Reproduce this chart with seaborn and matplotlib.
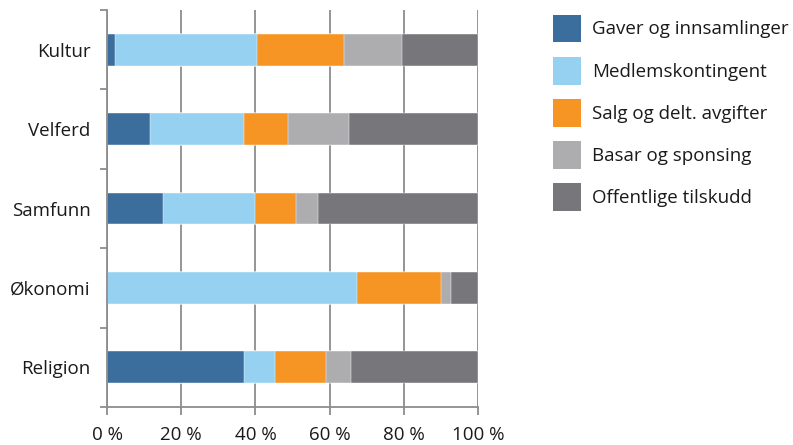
import matplotlib
matplotlib.use("Agg")
import matplotlib.pyplot as plt
from matplotlib.patches import Patch
from matplotlib.ticker import FixedLocator, FuncFormatter
import numpy as np
import pandas as pd
import seaborn as sns

# Andel av inntekter per område (prosent)
omrader = ["Kultur", "Velferd", "Samfunn", "Økonomi", "Religion"]
gaver = [2.2, 11.5, 15.0, 0.0, 36.9]
medlem = [38.3, 25.4, 24.9, 67.4, 8.3]
salg = [23.4, 12.0, 11.1, 22.6, 13.8]
basar = [15.6, 16.2, 5.9, 2.6, 6.7]
offentlig = [20.5, 34.9, 43.1, 7.4, 34.3]

serier = ["Gaver og innsamlinger", "Medlemskontingent", "Salg og delt. avgifter",
          "Basar og sponsing", "Offentlige tilskudd"]
farger = ["#3b6e9d", "#97d1f1", "#f69424", "#adadb0", "#77777b"]

df = pd.DataFrame({"omrade": omrader, serier[0]: gaver, serier[1]: medlem,
                   serier[2]: salg, serier[3]: basar, serier[4]: offentlig})
kum = df[serier].cumsum(axis=1)

sns.set_style("white")
plt.rcParams["font.family"] = ["Open Sans", "DejaVu Sans"]

fig = plt.figure(figsize=(7.93, 4.45), dpi=100)
ax = fig.add_axes([107 / 793, 1 - 407 / 445, 371 / 793, 397 / 445])

# stablet: tegn kumulative summer bakfra
for s, c in reversed(list(zip(serier, farger))):
    sns.barplot(x=kum[s], y=df["omrade"], color=c, width=0.4, orient="y",
                ax=ax, edgecolor="white", linewidth=0.3, saturation=1)

ax.set_xlim(0, 100)
ax.set_ylim(4.5, -0.5)
ax.set_xticks(np.arange(0, 101, 20))
ax.xaxis.set_major_formatter(FuncFormatter(lambda v, p: f"{int(v)} %"))
ax.grid(axis="x", color="#8c8c8c", linewidth=1.3)
ax.set_axisbelow(True)
ax.set_xlabel("")
ax.set_ylabel("")

for sp in ["top", "right"]:
    ax.spines[sp].set_visible(False)
for sp in ["left", "bottom"]:
    ax.spines[sp].set_color("#8c8c8c")
    ax.spines[sp].set_linewidth(1.3)

ax.tick_params(axis="x", length=6, width=1.3, color="#8c8c8c", direction="out",
               labelsize=13.5, labelcolor="#1a1a1a", pad=8, bottom=True)
ax.tick_params(axis="y", which="major", length=0, labelsize=13.5,
               labelcolor="#1a1a1a", pad=12)
ax.yaxis.set_minor_locator(FixedLocator(np.arange(-0.5, 5, 1)))
ax.tick_params(axis="y", which="minor", length=5, width=1.3, color="#8c8c8c",
               direction="out", left=True)

handles = [Patch(facecolor=c, edgecolor="none", label=s) for s, c in zip(serier, farger)]
fig.legend(handles=handles, loc="upper left", bbox_to_anchor=(545 / 793, 1 - 7 / 445),
           frameon=False, fontsize=13.5, handlelength=1.5, handleheight=1.92,
           labelspacing=0.75, handletextpad=0.6, borderaxespad=0,
           labelcolor="#1a1a1a")

fig.savefig("out.png", dpi=100)
